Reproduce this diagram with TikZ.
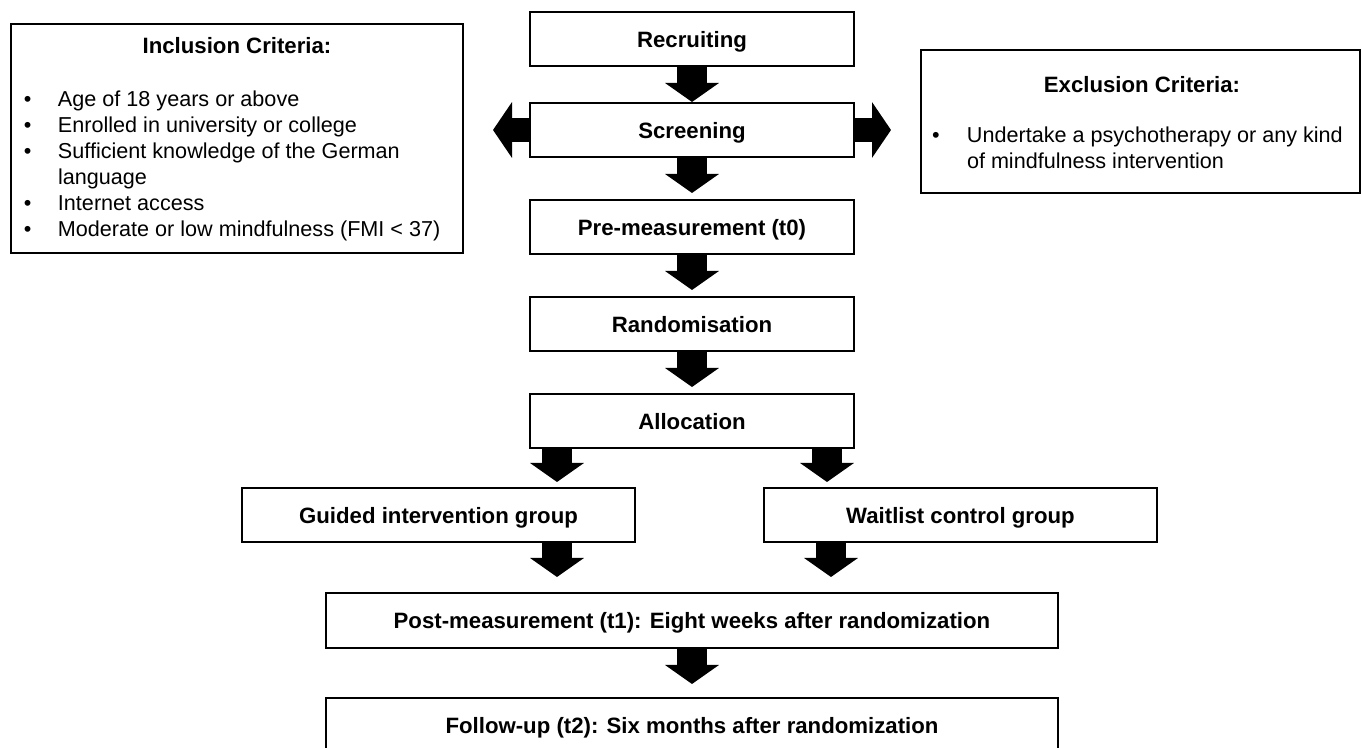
\documentclass[tikz,border=0pt]{standalone}
\usepackage{fontspec}
\setmainfont{Liberation Sans}
\usetikzlibrary{positioning}
\usetikzlibrary{arrows.meta}
\newcommand{\flowfont}{\fontsize{10.8}{13}\selectfont}
\newcommand{\stepfont}{\fontsize{11.1}{13}\selectfont\bfseries}
\tikzstyle{stepbox}=[draw,line width=1pt,minimum width=162pt,minimum height=27pt,inner sep=0pt,outer sep=0pt,text height=8.4pt,text depth=0pt,font=\stepfont]
\tikzstyle{critbox}=[draw,line width=1pt,inner sep=0pt,outer sep=0pt]
\tikzstyle{crittext}=[inner sep=0pt,outer sep=0pt,font=\flowfont]
\tikzstyle{blockdown}=[line width=15pt,-{Triangle[width=26.5pt,length=9.5pt]}]
\tikzstyle{blockside}=[line width=12pt,-{Triangle[width=27.5pt,length=9.5pt]}]

\begin{document}
\begin{tikzpicture}[x=0.5pt,y=-0.5pt,node distance=21.5pt]
  \useasboundingbox (0,0) rectangle (1362,748);
  % main column
  \node [stepbox] (recr) at (692,39) {Recruiting};
  \node [stepbox] (scr) [below=18.5pt of recr] {Screening};
  \node [stepbox] (pre) [below=of scr] {Pre-measurement (t0)};
  \node [stepbox] (rand) [below=of pre] {Randomisation};
  \node [stepbox] (alloc) [below=of rand] {Allocation};
  \node [stepbox,minimum width=196.5pt] (guided) at (438.5,515) {Guided intervention group};
  \node [stepbox,minimum width=196.5pt] (wait) at (960.5,515) {Waitlist control group};
  \node [stepbox,minimum width=366pt,minimum height=27.5pt] (post) at (692,620.5) {Post-measurement (t1): Eight weeks after randomization};
  \node [stepbox,minimum width=366pt] (follow) [below=25pt of post] {Follow-up (t2): Six months after randomization};

  % criteria
  \node [critbox,minimum width=226pt,minimum height=114.5pt] (incl) at (237,138.5) {};
  \node [crittext,font=\stepfont,anchor=base] (incl-title) at (237,54) {Inclusion Criteria:};
  \node [crittext,anchor=base west] (incl-list) at (24,107) {\begin{tabular}[t]{@{}p{17pt}@{}l@{}}
    • & Age of 18 years or above\\
    • & Enrolled in university or college\\
    • & Sufficient knowledge of the German\\
      & language\\
    • & Internet access\\
    • & Moderate or low mindfulness (FMI < 37)
  \end{tabular}};
  \node [critbox,minimum width=219.5pt,minimum height=71.5pt] (excl) at (1140.5,121.5) {};
  \node [crittext,font=\stepfont,anchor=base] (excl-title) at (1142,93) {Exclusion Criteria:};
  \node [crittext,anchor=base west] (excl-list) at (932,143) {\begin{tabular}[t]{@{}p{17.5pt}@{}l@{}}
    • & Undertake a psychotherapy or any kind\\
      & of mindfulness intervention
  \end{tabular}};

  % arrows
  \coordinate (splitl) at ([xshift=13.5pt]alloc.south west);
  \coordinate (splitr) at ([xshift=-13.5pt]alloc.south east);
  \draw [blockdown,shorten >=0.5pt] (recr) -- (scr);
  \draw [blockdown,shorten >=3.5pt] (scr) -- (pre);
  \draw [blockdown,shorten >=3.5pt] (pre) -- (rand);
  \draw [blockdown,shorten >=3.5pt] (rand) -- (alloc);
  \draw [blockside,shorten >=15pt] (scr.west) -- (incl.east |- scr.west);
  \draw [blockside,shorten >=15pt] (scr.east) -- (excl.west |- scr.east);
  \draw [blockdown,shorten >=3pt] (splitl) -- (splitl |- guided.north);
  \draw [blockdown,shorten >=3pt] (splitr) -- (splitr |- wait.north);
  \draw [blockdown,shorten >=8pt] (guided.south -| splitl) -- (post.north -| splitl);
  \draw [blockdown,shorten >=8pt] ([xshift=2pt]wait.south -| splitr) -- ([xshift=2pt]post.north -| splitr);
  \draw [blockdown,shorten >=7pt] (post.south) -- (post.south |- follow.north);
\end{tikzpicture}
\end{document}
